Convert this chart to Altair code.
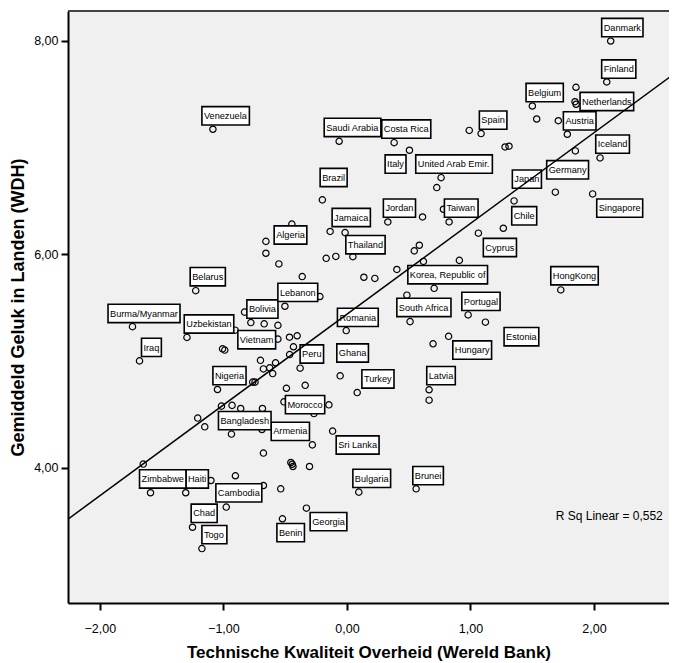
import altair as alt
import pandas as pd

# ---------------- data ----------------
countries = ["Danmark", "Finland", "Belgium", "Netherlands", "Austria", "Iceland", "Germany",
             "Japan", "Singapore", "Chile", "Cyprus", "HongKong", "Korea, Republic of",
             "South Africa", "Portugal", "Estonia", "Hungary", "Latvia", "Brunei", "Bulgaria",
             "Turkey", "Ghana", "Romania", "Sri Lanka", "Peru", "Morocco", "Armenia", "Georgia",
             "Benin", "Cambodia", "Togo", "Chad", "Haiti", "Zimbabwe", "Bangladesh", "Nigeria",
             "Vietnam", "Uzbekistan", "Iraq", "Burma/Myanmar", "Belarus", "Bolivia", "Lebanon",
             "Algeria", "Jamaica", "Thailand", "Brazil", "Jordan", "Taiwan", "United Arab Emir.",
             "Italy", "Costa Rica", "Saudi Arabia", "Venezuela", "Spain"]
gov_quality = [2.135, 2.103, 1.501, 1.846, 1.784, 2.049, 1.687,
               1.353, 1.989, 1.266, 1.064, 1.731, 0.706,
               0.511, 0.981, 1.36, 0.823, 0.665, 0.560, 0.096,
               0.083, -0.055, -0.006, -0.116, -0.379, -0.51, -0.280, -0.328,
               -0.522, -0.977, -1.174, -1.250, -1.305, -1.590, -0.935, -1.048,
               -0.905, -1.295, -1.679, -1.736, -1.224, -0.778, -0.502,
               -0.446, -0.015, 0.048, -0.199, 0.331, 0.827, 0.762,
               0.506, 0.382, -0.063, -1.085, 1.086]
happiness = [8.000, 7.616, 7.391, 7.431, 7.126, 6.904, 6.583,
             6.501, 6.567, 6.245, 6.199, 5.667, 5.682,
             5.370, 5.433, 5.22, 5.232, 4.731, 3.803, 3.772,
             4.705, 4.862, 5.286, 4.344, 4.934, 4.618, 4.215, 3.622,
             3.522, 3.632, 3.243, 3.443, 3.766, 3.766, 4.316, 4.734,
             5.290, 5.222, 5.002, 5.323, 5.660, 5.361, 5.514,
             6.284, 6.204, 5.979, 6.511, 6.304, 6.304, 6.719,
             6.976, 7.047, 7.060, 7.173, 7.132]
# where each label box sits (left edge, bottom edge), in data units
label_x = [2.062, 2.062, 1.450, 1.887, 1.752, 2.014, 1.617,
           1.339, 2.022, 1.334, 1.104, 1.650, 0.493,
           0.404, 0.930, 1.272, 0.857, 0.646, 0.533, 0.048,
           0.121, -0.082, -0.077, -0.087, -0.379, -0.498, -0.613, -0.298,
           -0.567, -1.061, -1.174, -1.261, -1.303, -1.679, -1.040, -1.085,
           -0.883, -1.317, -1.663, -1.934, -1.269, -0.810, -0.559,
           -0.589, -0.120, -0.009, -0.217, 0.295, 0.789, 0.557,
           0.309, 0.282, -0.184, -1.174, 1.072]
label_y = [8.040, 7.651, 7.431, 7.347, 7.166, 6.948, 6.707,
           6.620, 6.348, 6.276, 5.979, 5.714, 5.724,
           5.417, 5.474, 5.143, 5.018, 4.778, 3.841, 3.815,
           4.747, 4.990, 5.324, 4.128, 4.981, 4.506, 4.256, 3.410,
           3.307, 3.679, 3.288, 3.488, 3.810, 3.810, 4.356, 4.778,
           5.115, 5.262, 5.043, 5.361, 5.705, 5.402, 5.558,
           6.096, 6.260, 6.005, 6.635, 6.348, 6.348, 6.761,
           6.761, 7.089, 7.104, 7.213, 7.173]

# unlabelled countries
other_x = [0.990, 1.280, 1.312, 1.854, 1.855, 1.711, 1.536, 1.849, 0.727, 0.612,
           0.781, -0.136, -0.656, -0.656, -0.551, -0.168, -0.090, 0.545, 0.586, 0.910,
           0.619, 0.404, 0.137, 0.226, -0.362, -0.219, 0.485, 1.121, 0.697, -0.829,
           -0.670, -0.559, -0.559, -0.465, -0.403, -0.433, -0.464, -1.007, -0.989, -0.700,
           -0.578, -0.676, -0.625, -0.601, -0.763, -0.744, -0.490, -0.338, -0.267, -0.146,
           -1.016, -0.930, -0.860, -0.684, -1.208, -1.151, -0.688, -0.676, -0.454, -0.443,
           -0.437, -0.303, -1.649, -1.101, -0.903, -0.676, -0.536, 0.665]
other_y = [7.162, 7.007, 7.014, 7.566, 7.407, 7.253, 7.269, 6.970, 6.626, 6.351,
           6.423, 6.215, 6.122, 6.011, 5.911, 5.963, 5.981, 6.033, 6.086, 5.944,
           5.934, 5.859, 5.786, 5.775, 5.792, 5.605, 5.618, 5.365, 5.162, 5.459,
           5.349, 5.335, 5.206, 5.224, 5.237, 5.134, 5.061, 5.115, 5.103, 5.007,
           4.984, 4.927, 4.937, 4.883, 4.803, 4.803, 4.745, 4.773, 4.508, 4.590,
           4.578, 4.585, 4.556, 4.556, 4.466, 4.384, 4.359, 4.138, 4.050, 4.033,
           4.012, 4.012, 4.035, 3.881, 3.925, 3.834, 3.803, 4.634]

# linear fit line as drawn in the picture (value at the left and right plot edges)
fit_x = [-2.258, 2.672]
fit_y = [3.519, 7.712]
r_sq_text = "R Sq Linear = 0,552"

X_TITLE = "Technische Kwaliteit Overheid (Wereld Bank)"
Y_TITLE = "Gemiddeld Geluk in Landen (WDH)"
X_TICKS = [-2, -1, 0, 1, 2]
Y_TICKS = [4, 6, 8]

# ---------------- layout ----------------
X_DOMAIN = [-2.258, 2.607]
Y_DOMAIN = [2.733, 8.281]
W, H = 601, 592
KX = W / (X_DOMAIN[1] - X_DOMAIN[0])   # px per unit
KY = H / (Y_DOMAIN[1] - Y_DOMAIN[0])

LABEL_FONT = "Liberation Sans"
LABEL_SIZE = 9.2
BOX_H = 18.3
BOX_PAD = 2.0

ARIAL = {' ': 278, '!': 278, '(': 333, ')': 333, ',': 278, '-': 333, '.': 278, '/': 278,
         'A': 667, 'B': 667, 'C': 722, 'D': 722, 'E': 667, 'F': 611, 'G': 778, 'H': 722,
         'I': 278, 'J': 500, 'K': 667, 'L': 556, 'M': 833, 'N': 722, 'O': 778, 'P': 667,
         'Q': 778, 'R': 722, 'S': 667, 'T': 611, 'U': 722, 'V': 667, 'W': 944, 'X': 667,
         'Y': 667, 'Z': 611, 'a': 556, 'b': 556, 'c': 500, 'd': 556, 'e': 556, 'f': 278,
         'g': 556, 'h': 556, 'i': 222, 'j': 222, 'k': 500, 'l': 222, 'm': 833, 'n': 556,
         'o': 556, 'p': 556, 'q': 556, 'r': 333, 's': 500, 't': 278, 'u': 556, 'v': 500,
         'w': 722, 'x': 500, 'y': 500, 'z': 500}


def text_px(s):
    return sum(ARIAL.get(c, 556) for c in s) / 1000 * LABEL_SIZE


points = pd.DataFrame({
    "x": gov_quality + other_x,
    "y": happiness + other_y,
})

labels = pd.DataFrame({"country": countries, "lx": label_x, "ly": label_y})
labels["lx2"] = [lx + (text_px(c) + 2 * BOX_PAD) / KX for lx, c in zip(label_x, countries)]
labels["ly2"] = [ly + BOX_H / KY for ly in label_y]

fit = pd.DataFrame({"x": fit_x, "y": fit_y})

FONT = "Liberation Sans"
lab_expr = "replace(format(datum.value, '.2f'), '.', ',')"

xscale = alt.Scale(domain=X_DOMAIN, nice=False, zero=False)
yscale = alt.Scale(domain=Y_DOMAIN, nice=False, zero=False)

x_axis = alt.Axis(values=X_TICKS, labelExpr=lab_expr, grid=False, tickSize=7, tickWidth=2,
                  domainWidth=2, domainColor="black", tickColor="black", labelColor="black",
                  labelFont=FONT, labelFontSize=12.5, labelPadding=12,
                  title=X_TITLE, titleFont=FONT, titleFontSize=17, titleFontWeight="bold",
                  titleColor="black", titlePadding=10)
y_axis = alt.Axis(values=Y_TICKS, labelExpr=lab_expr, grid=False, tickSize=7, tickWidth=2,
                  domainWidth=2, domainColor="black", tickColor="black", labelColor="black",
                  labelFont=FONT, labelFontSize=12.5, labelPadding=3,
                  title=Y_TITLE, titleFont=FONT, titleFontSize=18, titleFontWeight="bold",
                  titleColor="black", titlePadding=6)

pts = alt.Chart(points).mark_point(shape="circle", filled=False, color="black", size=40,
                                   strokeWidth=1.2, opacity=1).encode(
    x=alt.X("x:Q", scale=xscale, axis=x_axis),
    y=alt.Y("y:Q", scale=yscale, axis=y_axis),
)

# top frame line of the plot area (the right side runs off the picture)
top_border = alt.Chart(points).mark_rule(color="#444444", strokeWidth=1).encode(
    x=alt.value(0), x2=alt.value(W), y=alt.value(0)
)

boxes = alt.Chart(labels).mark_rect(fill="white", stroke="black", strokeWidth=1.6).encode(
    x="lx:Q", x2="lx2", y="ly:Q", y2="ly2"
)

texts = alt.Chart(labels).mark_text(align="left", baseline="alphabetic", dx=BOX_PAD, dy=-6,
                                    font=LABEL_FONT, fontSize=LABEL_SIZE, color="black").encode(
    x="lx:Q", y="ly:Q", text="country:N"
)

fit_line = alt.Chart(fit).mark_line(color="black", strokeWidth=1.5, clip=True).encode(
    x="x:Q", y="y:Q")

rsq = alt.Chart(pd.DataFrame({"x": [1.69], "y": [3.51], "t": [r_sq_text]})).mark_text(
    align="left", baseline="alphabetic", font=FONT, fontSize=12, color="black"
).encode(x="x:Q", y="y:Q", text="t:N")

chart = alt.layer(pts, top_border, boxes, texts, fit_line, rsq).properties(
    width=W, height=H,
    autosize=alt.AutoSizeParams(type="none"),
    padding={"left": 60, "top": 3, "right": 0, "bottom": 70},
).configure_view(
    fill="#F0F0F0", strokeWidth=0
)

chart.save("out.html", embed_options={"renderer": "svg", "actions": False})
